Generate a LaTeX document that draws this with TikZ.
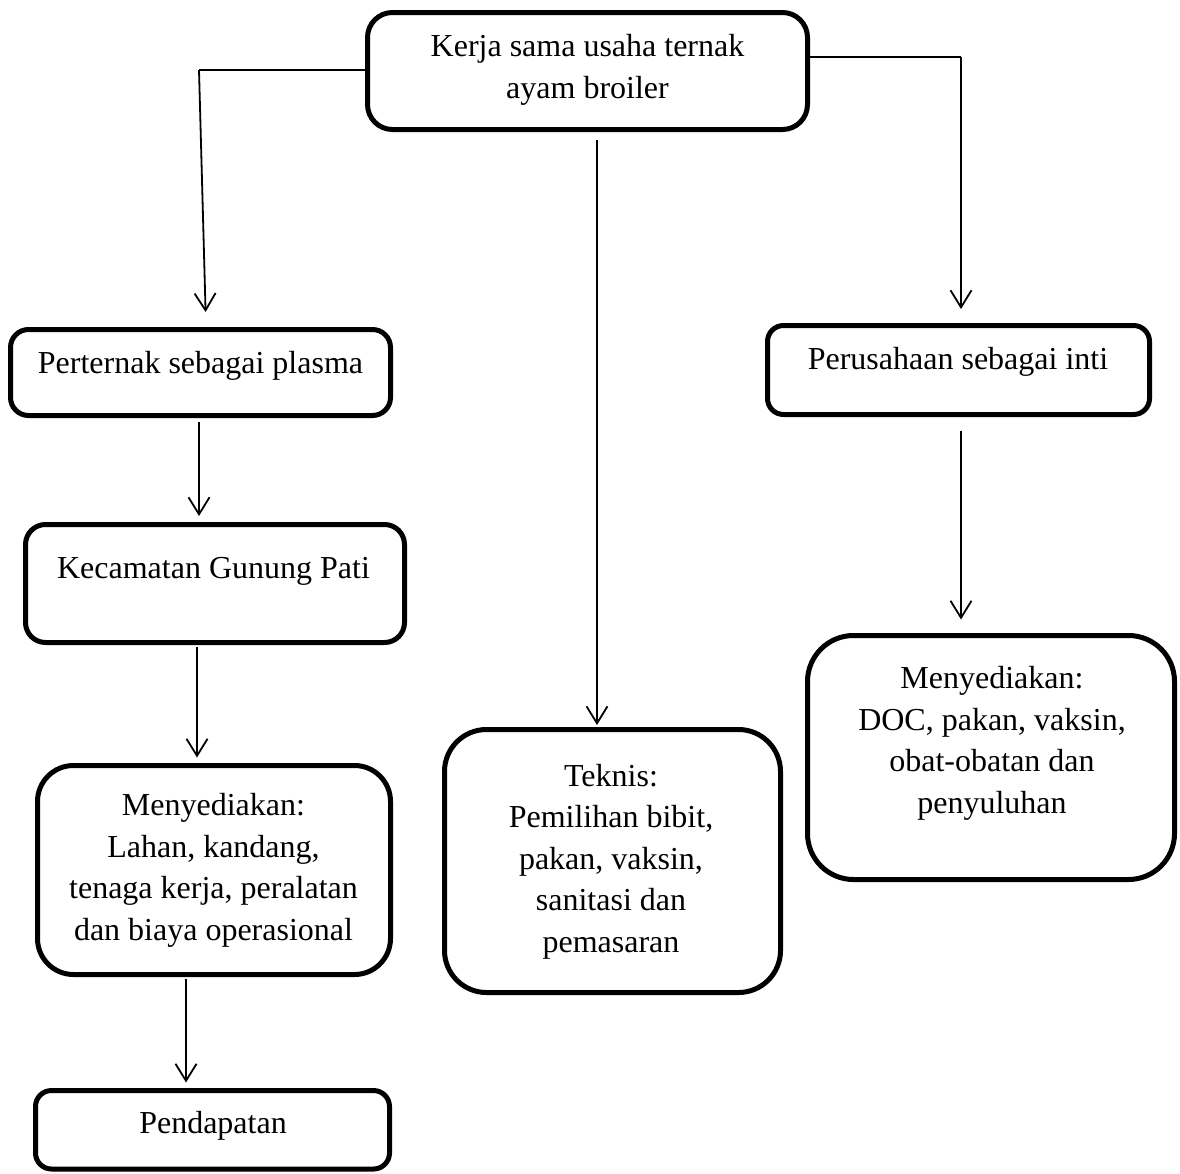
\documentclass[tikz,border=0pt]{standalone}
\usepackage{fontspec}
\setmainfont{Liberation Serif}
\usetikzlibrary{arrows.meta}
\begin{document}
\begin{tikzpicture}[x=1pt,y=-1pt,
  box/.style={draw=black, line width=5pt, inner sep=0pt, rectangle},
  txt/.style={anchor=base, align=center, inner sep=0pt, font=\fontsize{32}{41.5}\selectfont},
  conn/.style={draw=black, line width=1.8pt, -{Straight Barb[length=17pt,width=21pt,line width=1.8pt]}},
  line/.style={draw=black, line width=1.8pt}]
\useasboundingbox[fill=white] (0,0) rectangle (1180,1173);

% boxes (stroke centre lines)
\node[box, rounded corners=25pt, minimum width=440pt, minimum height=117pt] (top) at (587.5,71) {};
\node[box, rounded corners=18pt, minimum width=380pt, minimum height=86pt] (plasma) at (200.5,372.5) {};
\node[box, rounded corners=20pt, minimum width=379pt, minimum height=118pt] (kec) at (215,583.5) {};
\node[box, rounded corners=36pt, minimum width=353pt, minimum height=209pt] (menyL) at (214,870) {};
\node[box, rounded corners=16pt, minimum width=354pt, minimum height=78.5pt] (pend) at (212.5,1129.75) {};
\node[box, rounded corners=42pt, minimum width=336pt, minimum height=263pt] (teknis) at (612.5,861) {};
\node[box, rounded corners=16pt, minimum width=382pt, minimum height=89pt] (inti) at (958.5,370) {};
\node[box, rounded corners=46pt, minimum width=367pt, minimum height=244pt] (menyR) at (991,757.5) {};

% texts (anchor base = baseline of the last line)
\node[txt] (ttop) at (587.5,98) {Kerja sama usaha ternak\\ayam broiler};
\node[txt] (tplasma) at (200.5,373) {Perternak sebagai plasma};
\node[txt] (tkec) at (213.5,578) {Kecamatan Gunung Pati};
\node[txt] (tmenyL) at (213.5,940) {Menyediakan:\\Lahan, kandang,\\tenaga kerja, peralatan\\dan biaya operasional};
\node[txt] (tpend) at (213,1133) {Pendapatan};
\node[txt] (tteknis) at (611,952) {Teknis:\\Pemilihan bibit,\\pakan, vaksin,\\sanitasi dan\\pemasaran};
\node[txt] (tinti) at (958,369) {Perusahaan sebagai inti};
\node[txt] (tmenyR) at (992,813) {Menyediakan:\\DOC, pakan, vaksin,\\obat-obatan dan\\penyuluhan};

% connectors
\coordinate (bendL) at (199,70);
\coordinate (bendR) at (961,57);
\draw[line] ([yshift=1pt]top.west) -- (bendL);
\draw[conn, shorten >=15pt] (bendL) -- ([xshift=5.5pt]plasma.north);
\draw[line] ([yshift=14pt]top.east) -- (bendR);
\draw[conn, shorten >=14pt] (bendR) -- ([xshift=2.5pt]inti.north);
\draw[conn, shorten <=8pt, shorten >=2pt] ([xshift=9.5pt]top.south) -- ([xshift=-15.5pt]teknis.north);
\draw[conn, shorten <=4pt, shorten >=6pt] ([xshift=-1.5pt]plasma.south) -- ([xshift=-16pt]kec.north);
\draw[conn, shorten <=2pt, shorten >=5.5pt] ([xshift=-18pt]kec.south) -- ([xshift=-17pt]menyL.north);
\draw[conn, shorten <=2pt, shorten >=5.5pt] ([xshift=-28pt]menyL.south) -- ([xshift=-26.5pt]pend.north);
\draw[conn, shorten <=13.5pt, shorten >=13.5pt] ([xshift=2.5pt]inti.south) -- ([xshift=-30pt]menyR.north);
\end{tikzpicture}
\end{document}
